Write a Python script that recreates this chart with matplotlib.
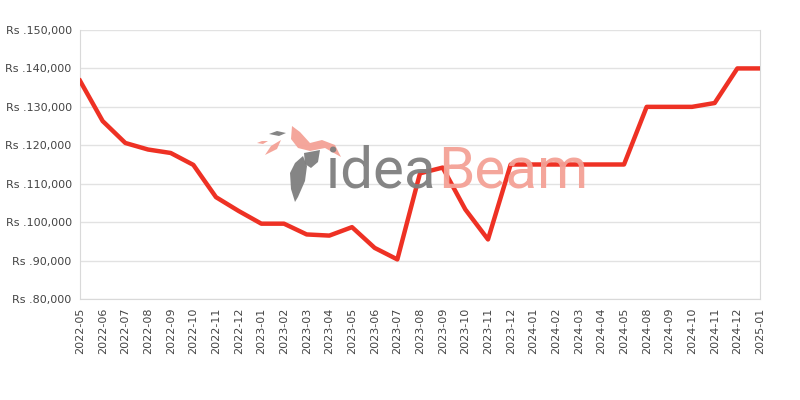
import matplotlib
matplotlib.use('Agg')
import matplotlib.pyplot as plt
from matplotlib.patches import Polygon
from matplotlib.ticker import FuncFormatter

months = ['2022-05', '2022-06', '2022-07', '2022-08', '2022-09', '2022-10',
          '2022-11', '2022-12', '2023-01', '2023-02', '2023-03', '2023-04',
          '2023-05', '2023-06', '2023-07', '2023-08', '2023-09', '2023-10',
          '2023-11', '2023-12', '2024-01', '2024-02', '2024-03', '2024-04',
          '2024-05', '2024-08', '2024-09', '2024-10', '2024-11', '2024-12',
          '2025-01']
prices = [136800, 126300, 120600, 118900, 118000, 114900,
          106500, 102900, 99600, 99600, 96800, 96500,
          98700, 93300, 90300, 112700, 114200, 103300,
          95500, 115000, 115000, 115000, 115000, 115000,
          115000, 130000, 130000, 130000, 131000, 140000,
          140000]
yticks = [80000, 90000, 100000, 110000, 120000, 130000, 140000, 150000]

plt.rcParams['font.family'] = ['DejaVu Sans']

fig = plt.figure(figsize=(8, 4), dpi=100)
ax = fig.add_axes([0.1, 0.2525, 0.85, 0.6725])

x = list(range(len(months)))
ax.plot(x, prices, color='#ee3124', linewidth=3.2, zorder=5, solid_joinstyle='round')

ax.set_xlim(0, len(months) - 1)
ax.set_ylim(80000, 150000)
ax.set_yticks(yticks)
ax.yaxis.set_major_formatter(FuncFormatter(lambda v, p: 'Rs .{:,}'.format(int(v))))
ax.set_xticks(x)
ax.set_xticklabels(months, rotation=90)
ax.tick_params(axis='both', length=0, labelsize=8, colors='#444444', pad=6)
ax.grid(axis='y', color='#e2e2e2', linewidth=1)
ax.set_axisbelow(True)
for side in ['left', 'bottom', 'right']:
    ax.spines[side].set_color('#d9d9d9')
ax.spines['top'].set_visible(False)

# watermark text
fig.text(0.544, 0.53, 'idea', fontsize=42, color='#7f7f7f', family='Roboto',
         ha='right', va='baseline', zorder=1, alpha=0.95)
fig.text(0.548, 0.53, 'Beam', fontsize=42, color='#f4a196', family='Roboto',
         ha='left', va='baseline', zorder=1, alpha=0.95)


# rough bird logo, shapes given in pixels from top-left
def logo_shape(pts, col):
    pts = [(px / 800, 1 - py / 400) for px, py in pts]
    fig.add_artist(Polygon(pts, closed=True, facecolor=col, edgecolor='none',
                           transform=fig.transFigure, zorder=1, alpha=0.95))


logo_shape([(292, 126), (300, 132), (310, 143), (322, 140), (335, 145),
            (341, 157), (325, 148), (310, 151), (298, 148), (291, 139)], '#f4a196')
logo_shape([(265, 155), (271, 146), (281, 140), (277, 149)], '#f4a196')
logo_shape([(257, 143), (262, 141), (268, 141), (263, 144)], '#f4a196')
logo_shape([(269, 134), (277, 131), (286, 133), (279, 136)], '#7f7f7f')
logo_shape([(303, 156), (307, 166), (305, 181), (298, 197), (295, 202),
            (291, 189), (290, 173), (295, 163)], '#7f7f7f')
logo_shape([(304, 153), (320, 150), (318, 162), (311, 168), (305, 164)], '#7f7f7f')

fig.savefig('out.png', dpi=100)
